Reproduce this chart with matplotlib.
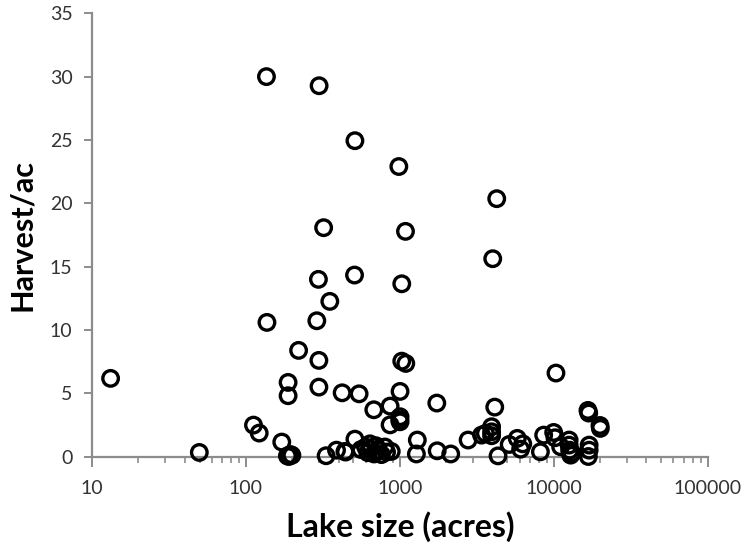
import matplotlib
matplotlib.use("Agg")
import matplotlib.pyplot as plt
from matplotlib.ticker import LogLocator, FixedLocator, NullFormatter

# Lake surface area (acres)
lake_size = [
    13.2, 49.8, 112, 122, 136, 137, 171, 188, 188, 186, 190, 195, 199,
    220, 289, 296, 298, 298, 299, 320, 332, 351, 388, 422, 440, 444,
    508, 511, 511, 544, 560, 600, 620, 640, 650, 678, 680, 700, 720,
    760, 800, 820, 865, 865, 880, 986, 1000, 1004, 1004, 1004, 1030,
    1030, 1089, 1094, 1282, 1300, 1740, 1750, 2143, 2780, 3400, 3600,
    3950, 3950, 3950, 4018, 4141, 4266, 4350, 5140, 5800, 6100, 6300,
    8200, 8610, 10000, 10200, 10350, 11100, 12600, 12600, 12700, 12900,
    13100, 16700, 16900, 17000, 17000, 16800, 20000, 20100,
]

# Harvest per acre
harvest = [
    6.17, 0.32, 2.48, 1.85, 30.0, 10.59, 1.14, 5.85, 4.80, 0.05, 0.0, 0.15, 0.1,
    8.38, 10.72, 13.99, 7.59, 5.48, 29.28, 18.07, 0.06, 12.25, 0.5, 5.03, 0.4, 0.35,
    14.33, 24.94, 1.37, 4.95, 0.55, 0.75, 0.3, 1.0, 0.6, 3.69, 0.2, 0.85, 0.5,
    0.15, 0.75, 0.35, 3.98, 2.5, 0.4, 22.9, 2.9, 5.14, 3.14, 2.74, 13.64,
    7.53, 17.78, 7.35, 0.2, 1.3, 4.22, 0.45, 0.2, 1.3, 1.69, 1.82,
    2.35, 1.95, 1.64, 15.62, 3.9, 20.36, 0.05, 0.95, 1.43, 0.58, 1.0,
    0.37, 1.69, 1.9, 1.48, 6.59, 0.77, 1.3, 0.9, 0.5, 0.11,
    0.3, 3.64, 3.43, 0.9, 0.5, 0.0, 2.45, 2.22,
]

x_ticks = [10, 100, 1000, 10000, 100000]
x_tick_labels = ["10", "100", "1000", "10000", "100000"]
y_ticks = [0, 5, 10, 15, 20, 25, 30, 35]

plt.rcParams["font.family"] = ["Lato", "DejaVu Sans"]

fig = plt.figure(figsize=(7.44, 5.5), dpi=100)
ax = fig.add_axes([0.1237, 0.170, 0.8273, 0.8058])

ax.scatter(lake_size, harvest, s=125, facecolors="none", edgecolors="black",
           linewidths=2.4, zorder=3, clip_on=False)

ax.set_xscale("log")
ax.set_xlim(10, 100000)
ax.set_ylim(0, 35)

ax.xaxis.set_major_locator(FixedLocator(x_ticks))
ax.set_xticklabels(x_tick_labels)
ax.xaxis.set_minor_locator(LogLocator(base=10, subs=range(2, 10)))
ax.xaxis.set_minor_formatter(NullFormatter())
ax.set_yticks(y_ticks)

axis_grey = "#8c8c8c"
for side in ("top", "right"):
    ax.spines[side].set_visible(False)
for side in ("left", "bottom"):
    ax.spines[side].set_color(axis_grey)
    ax.spines[side].set_linewidth(1.6)

ax.tick_params(axis="x", which="major", direction="out", length=7, width=1.4,
               color=axis_grey, labelsize=14, labelcolor="#333333", pad=10)
ax.tick_params(axis="x", which="minor", direction="out", length=4, width=1.2,
               color=axis_grey)
ax.tick_params(axis="y", which="major", direction="out", length=6, width=1.4,
               color=axis_grey, labelsize=14, labelcolor="#333333", pad=8)

ax.set_xlabel("Lake size (acres)", fontsize=23, fontweight="bold", labelpad=10)
ax.set_ylabel("Harvest/ac", fontsize=22, fontweight="bold", labelpad=10)

fig.savefig("out.png", dpi=100, facecolor="white")
